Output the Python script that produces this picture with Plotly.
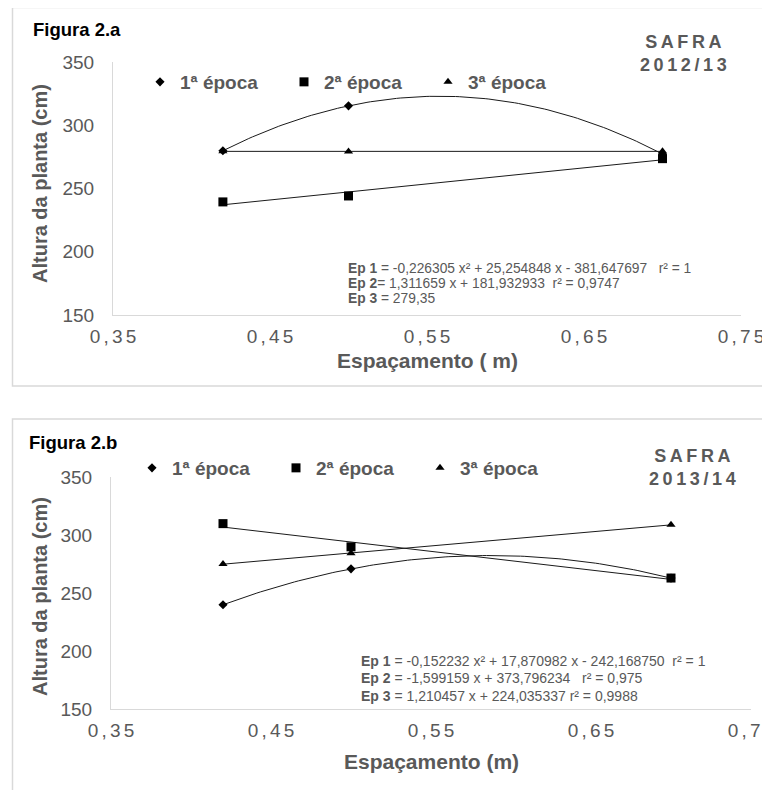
import numpy as np
import plotly.graph_objects as go

# ---------------- data ----------------
espacamento = [0.42, 0.50, 0.70]          # m

# Safra 2012/13 (Figura 2.a)
a_ep1 = [279.85, 315.33, 277.30]
a_ep2 = [239.4, 244.1, 273.6]
a_ep3 = [279.5, 279.2, 279.35]

# Safra 2013/14 (Figura 2.b)
b_ep1 = [239.87, 270.80, 262.86]
b_ep2 = [309.8, 289.8, 262.9]
b_ep3 = [275.0, 284.3, 308.8]

series_names = ["1ª época", "2ª época", "3ª época"]
a_trend_deg = [2, 1, 0]
b_trend_deg = [2, 1, 1]

x_ticks = [0.35, 0.45, 0.55, 0.65, 0.75]
y_ticks = [150, 200, 250, 300, 350]

a_equations = [
    "<b>Ep 1</b> = -0,226305 x² + 25,254848 x - 381,647697   r² = 1",
    "<b>Ep 2</b>= 1,311659 x + 181,932933  r² = 0,9747",
    "<b>Ep 3</b> = 279,35",
]
b_equations = [
    "<b>Ep 1</b> = -0,152232 x² + 17,870982 x - 242,168750  r² = 1",
    "<b>Ep 2</b> = -1,599159 x + 373,796234   r² = 0,975",
    "<b>Ep 3</b> = 1,210457 x + 224,035337 r² = 0,9988",
]

# ---------------- style ----------------
W, H = 770, 790
OFF = 8  # page body margin
FONT = "Liberation Sans, Arial, sans-serif"
GRAY = "#595959"
LIGHT = "#d9d9d9"
symbols = ["diamond", "square", "triangle-up"]
sizes = [7, 9, 8]


def px(x):
    return (x - OFF) / W


def py(y):
    return 1 - (y - OFF) / H


def spaced(s, sp="\u2006"):
    return sp.join(list(s))


fig = go.Figure()

panels = [
    dict(data=[a_ep1, a_ep2, a_ep3], deg=a_trend_deg, xa="x", ya="y", leg="legend"),
    dict(data=[b_ep1, b_ep2, b_ep3], deg=b_trend_deg, xa="x2", ya="y2", leg="legend2"),
]

for p in panels:
    for i, (vals, deg) in enumerate(zip(p["data"], p["deg"])):
        coef = np.polyfit(espacamento, vals, deg)
        xs = np.linspace(min(espacamento), max(espacamento), 120)
        fig.add_trace(go.Scatter(
            x=xs, y=np.polyval(coef, xs), mode="lines",
            line=dict(color="#1a1a1a", width=1),
            xaxis=p["xa"], yaxis=p["ya"], showlegend=False, hoverinfo="skip"))
    for i, vals in enumerate(p["data"]):
        fig.add_trace(go.Scatter(
            x=espacamento, y=vals, mode="markers", name=series_names[i],
            marker=dict(symbol=symbols[i], size=sizes[i], color="black"),
            xaxis=p["xa"], yaxis=p["ya"], legend=p["leg"]))

axis_common = dict(showline=True, linecolor=LIGHT, linewidth=1, showgrid=False, automargin=False,
                   zeroline=False, ticks="", ticklabeloverflow="allow",
                   tickfont=dict(family=FONT, size=19, color=GRAY))

x_text = [spaced(f"{v:.2f}".replace(".", ",")) for v in x_ticks]

fig.update_layout(
    width=W, height=H, margin=dict(l=0, r=0, t=0, b=0, autoexpand=False),
    paper_bgcolor="white", plot_bgcolor="white",
    font=dict(family=FONT, color=GRAY),
    xaxis=dict(domain=[px(113), px(741)], range=[0.35, 0.75], tickvals=x_ticks, ticktext=x_text,
               anchor="y", ticklabelstandoff=4, **axis_common),
    yaxis=dict(domain=[py(315), py(62)], range=[150, 350], tickvals=y_ticks,
               anchor="x", ticklabelstandoff=14, **axis_common),
    xaxis2=dict(domain=[px(111), px(751)], range=[0.35, 0.75], tickvals=x_ticks, ticktext=x_text,
                anchor="y2", ticklabelstandoff=4, **axis_common),
    yaxis2=dict(domain=[py(709), py(477)], range=[150, 350], tickvals=y_ticks,
                anchor="x2", ticklabelstandoff=14, **axis_common),
    legend=dict(orientation="h", x=px(140), y=py(82), xanchor="left", yanchor="middle",
                font=dict(family=FONT, size=19, color=GRAY, weight="bold"),
                entrywidth=99, entrywidthmode="pixels", bgcolor="rgba(0,0,0,0)"),
    legend2=dict(orientation="h", x=px(132), y=py(468), xanchor="left", yanchor="middle",
                 font=dict(family=FONT, size=19, color=GRAY, weight="bold"),
                 entrywidth=99, entrywidthmode="pixels", bgcolor="rgba(0,0,0,0)"),
    showlegend=True,
)

# panel borders
fig.add_shape(type="rect", xref="paper", yref="paper", x0=px(12.5), x1=px(800), y0=py(386), y1=py(7.5),
              line=dict(color=LIGHT, width=1.5), layer="below")
fig.add_shape(type="rect", xref="paper", yref="paper", x0=px(12.5), x1=px(800), y0=py(820), y1=py(419),
              line=dict(color=LIGHT, width=1.5), layer="below")

ann = []
# figure labels
ann.append(dict(text="<b>Figura 2.a</b>", x=px(31), y=py(29), xanchor="left", yanchor="middle",
                font=dict(size=18.5, color="black")))
ann.append(dict(text="<b>Figura 2.b</b>", x=px(27), y=py(442), xanchor="left", yanchor="middle",
                font=dict(size=18.5, color="black")))
# safra labels
ann.append(dict(text="<b>" + spaced("SAFRA", "\u2009") + "<br>" + spaced("2012/13", "\u2009") + "</b>",
                x=px(683), y=py(54), xanchor="center", yanchor="middle", align="center",
                font=dict(size=18, color=GRAY)))
ann.append(dict(text="<b>" + spaced("SAFRA", "\u2009") + "<br>" + spaced("2013/14", "\u2009") + "</b>",
                x=px(692), y=py(467), xanchor="center", yanchor="middle", align="center",
                font=dict(size=18, color=GRAY)))
# axis titles
for (xc, yc) in [(40, 184), (40, 597)]:
    ann.append(dict(text="<b>Altura da planta (cm)</b>", x=px(xc), y=py(yc), textangle=-90,
                    xanchor="center", yanchor="middle", font=dict(size=20, color=GRAY)))
ann.append(dict(text="<b>Espaçamento ( m)</b>", x=px(427), y=py(361), xanchor="center", yanchor="middle",
                font=dict(size=21, color=GRAY)))
ann.append(dict(text="<b>Espaçamento (m)</b>", x=px(431), y=py(761), xanchor="center", yanchor="middle",
                font=dict(size=21, color=GRAY)))
# equations
for i, t in enumerate(a_equations):
    ann.append(dict(text=t, x=px(346), y=py(268 + 15.4 * i), xanchor="left", yanchor="middle",
                    font=dict(size=13.8, color=GRAY)))
for i, t in enumerate(b_equations):
    ann.append(dict(text=t, x=px(359), y=py(661 + 17.3 * i), xanchor="left", yanchor="middle",
                    font=dict(size=14, color=GRAY)))

for a in ann:
    a.update(xref="paper", yref="paper", showarrow=False)
    a["font"].setdefault("family", FONT)
fig.update_layout(annotations=ann)

fig.write_html("out.html")
